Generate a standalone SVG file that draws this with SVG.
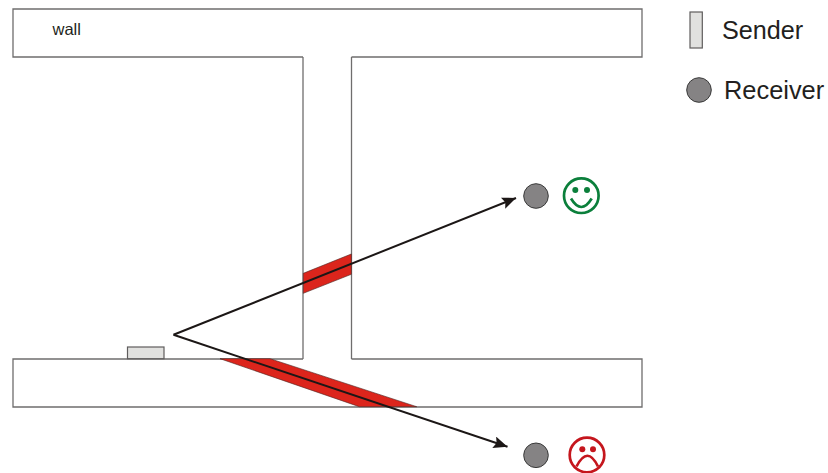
<svg xmlns="http://www.w3.org/2000/svg" width="828" height="473" viewBox="0 0 828 473">
<style>
.wall{fill:none;stroke:#6f6d6d;stroke-width:1.3}
.beam{fill:#dc251c;stroke:#4a2320;stroke-width:.6}
.sender{fill:#e1e1df;stroke:#5f5d5d;stroke-width:1.2}
.receiver{fill:#858384;stroke:#3a3a3a;stroke-width:1}
.ray{fill:none;stroke:#1c1716;stroke-width:2}
.head{fill:#1c1716}
.label{font-family:"Liberation Sans",Arial,sans-serif;fill:#231f20}
.good{fill:none;stroke:#0b7f3b;stroke-width:2.7}
.bad{fill:none;stroke:#c5161d;stroke-width:2.7}
</style>
<defs>
<marker id="arrow" markerUnits="userSpaceOnUse" markerWidth="15" markerHeight="13" refX="14" refY="6" orient="auto"><path class="head" d="M0 0L14 6L0 12L2.5 6Z"/></marker>
</defs>
<g id="walls">
<path id="wall-top" class="wall" d="M303 57H13V9H642V57H351.5"/>
<path id="wall-bottom" class="wall" d="M303 359H13V407H642V359H351.5"/>
<path id="wall-left" class="wall" d="M303 57V359"/>
<path id="wall-right" class="wall" d="M351.5 57V359"/>
</g>
<g id="beams">
<path class="beam" d="M303.3 273.3L351.3 254V274.3L303.3 293.3Z"/>
<path class="beam" d="M220 358.7H270L416.7 406.7H359.3Z"/>
</g>
<text id="wall-label" class="label" x="52.5" y="35" font-size="16.5">wall</text>
<g id="sender"><rect class="sender" x="127.5" y="347" width="36.5" height="11.7"/></g>
<g id="receiver-good"><circle class="receiver" cx="536" cy="196" r="12.3"/></g>
<g id="receiver-bad"><circle class="receiver" cx="536" cy="455.3" r="12.3"/></g>
<g id="smiley">
<circle class="good" cx="581.3" cy="195.7" r="17.3"/>
<circle cx="575.3" cy="190" r="3" fill="#0b7f3b"/>
<circle cx="587" cy="190" r="3" fill="#0b7f3b"/>
<path class="good" d="M571 198.5Q581.3 215.5 591.7 198.5"/>
</g>
<g id="frowny">
<circle class="bad" cx="587" cy="455" r="17.3"/>
<circle cx="582.3" cy="449.3" r="3" fill="#c5161d"/>
<circle cx="593" cy="449.3" r="3" fill="#c5161d"/>
<path class="bad" d="M576.5 466.5Q587.5 445 598 466.5"/>
</g>
<g id="connectors">
<path class="ray" marker-end="url(#arrow)" d="M173.5 334.8L516 198"/>
<path class="ray" marker-end="url(#arrow)" d="M173.5 334.8L507.5 446.7"/>
</g>
<g id="legend-sender">
<rect class="sender" x="690" y="12" width="12.3" height="36"/>
<text class="label" x="722" y="39" font-size="25.2">Sender</text>
</g>
<g id="legend-receiver">
<circle class="receiver" cx="699" cy="90" r="12.3"/>
<text class="label" x="724" y="99" font-size="25.4">Receiver</text>
</g>
</svg>
